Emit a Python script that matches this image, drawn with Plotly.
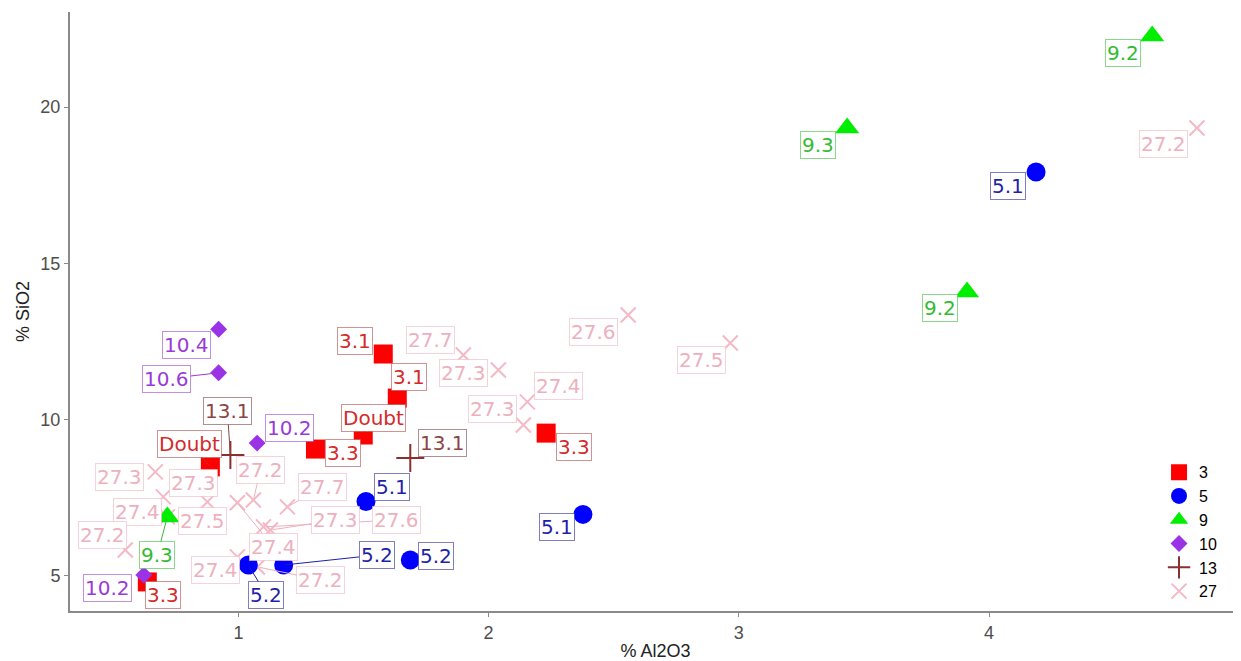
import plotly.graph_objects as go

# ---------------- data ----------------
groups = ["3", "5", "9", "10", "13", "27"]

g3_x = [1.579, 1.635, 1.499, 1.308, 2.230, 0.888, 0.636]
g3_y = [12.10, 10.69, 9.51, 9.06, 9.57, 8.49, 4.81]
g3_lab = ["3.1", "3.1", "Doubt", "3.3", "3.3", "Doubt", "3.3"]

g5_x = [4.188, 2.377, 1.510, 1.687, 1.181, 1.040]
g5_y = [17.92, 6.97, 7.38, 5.51, 5.35, 5.35]
g5_lab = ["5.1", "5.1", "5.1", "5.2", "5.2", "5.2"]

g9_x = [4.652, 3.433, 3.912, 0.716]
g9_y = [22.27, 19.33, 14.08, 6.89]
g9_lab = ["9.2", "9.3", "9.2", "9.3"]

g10_x = [0.921, 0.921, 1.075, 0.622]
g10_y = [12.89, 11.50, 9.25, 5.03]
g10_lab = ["10.4", "10.6", "10.2", "10.2"]

g13_x = [0.968, 1.687]
g13_y = [8.87, 8.77]
g13_lab = ["13.1", "13.1"]

g27_x = [0.668, 0.700, 0.716, 0.876, 0.996, 1.060, 1.196, 1.100, 1.128, 0.996,
         1.076, 0.548, 1.899, 2.039, 2.155, 2.139, 2.558, 2.966, 4.831]
g27_y = [8.33, 7.53, 6.89, 7.37, 7.34, 7.43, 7.21, 6.57, 6.47, 5.61,
         5.29, 5.83, 12.07, 11.59, 10.57, 9.83, 13.35, 12.45, 19.33]
g27_lab = ["27.3", "27.3", "27.4", "27.5", "27.4", "27.2", "27.7", "27.6", "27.3", "27.4",
           "27.2", "27.2", "27.7", "27.3", "27.4", "27.3", "27.6", "27.5", "27.2"]

# ---------------- label placement (screen px offsets, dy down) ----------------
g3_off = [(-28, -13), (12, -21), (10, -17), (28, 4), (28, 14), (-21, -23), (16, 13)]
g3_line = [False, False, False, False, False, True, False]
g5_off = [(-28, 14), (-26, 13), (26, -15), (26, -4), (93, -10), (18, 30)]
g5_line = [False, False, False, False, True, True]
g9_off = [(-29, 17), (-29, 17), (-27, 16), (-10, 38)]
g9_line = [False, False, False, True]
g10_off = [(-32, 16), (-52, 6), (32, -15), (-36, 13)]
g10_line = [False, True, False, False]
g13_off = [(-3, -44), (32, -15)]
g13_line = [True, False]
g27_off = [(-36, 5), (30, -14), (-30, -5), (-5, 19), (36, 44), (7, -30), (35, -20), (133, -7),
           (65, -10), (-22, 13), (63, 13), (-23, -15), (-33, -15), (-35, 3), (31, -16),
           (-31, -16), (-35, 17), (-29, 17), (-33, 16)]
g27_line = [False, False, False, False, True, True, True, True,
            True, False, True, False, False, False, False,
            False, False, False, False]

# ---------------- styles ----------------
styles = {
    "3":  dict(symbol="square", size=19, color="#FF0000", text="#D42A2A", border="rgba(170,60,60,0.55)"),
    "5":  dict(symbol="circle", size=19, color="#0000FF", text="#1F1FA8", border="rgba(40,40,150,0.6)"),
    "9":  dict(symbol="triangle-up", size=21, color="#00EE00", text="#33BB33", border="rgba(60,190,60,0.6)"),
    "10": dict(symbol="diamond", size=13, color="#9A32E6", text="#9A3AD8", border="rgba(150,70,210,0.6)"),
    "13": dict(symbol="cross-thin", size=20, color="#8B3030", text="#8B4545", border="rgba(120,70,70,0.6)"),
    "27": dict(symbol="x-thin", size=15, color="#F4B8C6", text="#EDB0BE", border="rgba(240,180,195,0.6)"),
}

data = {
    "3": (g3_x, g3_y, g3_lab, g3_off, g3_line),
    "5": (g5_x, g5_y, g5_lab, g5_off, g5_line),
    "9": (g9_x, g9_y, g9_lab, g9_off, g9_line),
    "10": (g10_x, g10_y, g10_lab, g10_off, g10_line),
    "13": (g13_x, g13_y, g13_lab, g13_off, g13_line),
    "27": (g27_x, g27_y, g27_lab, g27_off, g27_line),
}

fig = go.Figure()
draw_order = ["27", "3", "5", "9", "10", "13"]
for g in draw_order:
    xs, ys, labs, offs, lines = data[g]
    st = styles[g]
    thin = st["symbol"].endswith("-thin")
    marker = dict(symbol=st["symbol"], size=st["size"], color=st["color"])
    if thin:
        marker["line"] = dict(color=st["color"], width=2)
    else:
        marker["line"] = dict(width=0)
    fig.add_trace(go.Scatter(x=xs, y=ys, mode="markers", name=g, marker=marker,
                             legendrank=groups.index(g) + 1, hoverinfo="skip"))

annotations = []
for g in groups:
    xs, ys, labs, offs, lines = data[g]
    st = styles[g]
    for xv, yv, lab, (dx, dy), ln in zip(xs, ys, labs, offs, lines):
        base = dict(x=xv, y=yv, xref="x", yref="y", text=lab,
                    font=dict(family="DejaVu Sans, Liberation Sans, Arial, sans-serif", size=20, color=st["text"]),
                    bgcolor="white", bordercolor=st["border"], borderwidth=1, borderpad=1)
        if ln:
            base.update(showarrow=True, ax=dx, ay=dy, arrowhead=0, arrowwidth=1,
                        arrowcolor=st["text"], standoff=2)
        else:
            base.update(showarrow=False, xshift=dx, yshift=-dy)
        annotations.append(base)

# the page body has an 8px margin, so the figure is sized to fit the 1241x661 window
fig.update_layout(
    width=1233, height=653,
    margin=dict(l=62, r=0, t=4, b=50, autoexpand=False),
    paper_bgcolor="white", plot_bgcolor="white",
    font=dict(family="Liberation Sans, Arial, sans-serif", color="black"),
    annotations=annotations,
    showlegend=True,
    legend=dict(x=0.93, y=0.26, xanchor="left", yanchor="top",
                bgcolor="rgba(0,0,0,0)", font=dict(size=16, color="black"),
                tracegroupgap=0, itemsizing="trace"),
    xaxis=dict(range=[0.327, 5.007], tickvals=[1, 2, 3, 4, 5], ticktext=["1", "2", "3", "4", "5"],
               showgrid=False, zeroline=False, showline=True, linecolor="#8a8a8a", linewidth=2,
               ticks="outside", ticklen=4, tickcolor="#8a8a8a", automargin=False,
               ticklabeloverflow="allow",
               tickfont=dict(size=18, color="#4d4d4d"),
               title=dict(text="% Al2O3", font=dict(size=18, color="#222"))),
    yaxis=dict(range=[3.88, 23.04], tickvals=[5, 10, 15, 20],
               showgrid=False, zeroline=False, showline=True, linecolor="#8a8a8a", linewidth=2,
               ticks="outside", ticklen=4, tickcolor="#8a8a8a", automargin=False,
               tickfont=dict(size=18, color="#4d4d4d"),
               title=dict(text="% SiO2", font=dict(size=18, color="#222"), standoff=6)),
)

fig.write_html("out.html")
